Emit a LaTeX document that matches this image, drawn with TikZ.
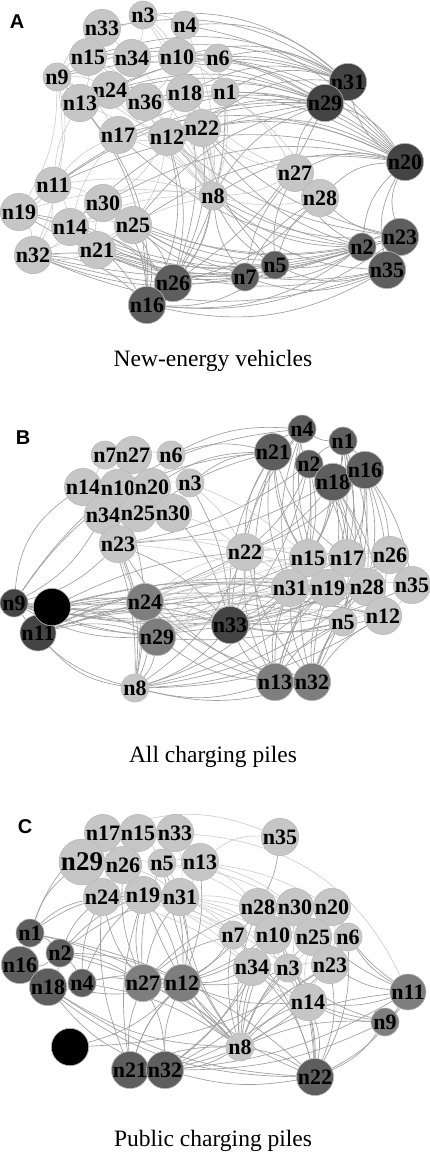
\documentclass[tikz,border=0pt]{standalone}
\usepackage{fontspec}
\setmainfont{Liberation Serif}
\newfontfamily\panelfont{Liberation Sans}
\usetikzlibrary{backgrounds}
\definecolor{netlight}{HTML}{C6C6C6}
\definecolor{netmid}{HTML}{7E7E7E}
\definecolor{netdark}{HTML}{5E5E5E}
\definecolor{netdeep}{HTML}{444444}
\definecolor{netedge}{HTML}{C8C8C8}
\definecolor{netedgedark}{HTML}{9E9E9E}

\begin{document}
\begin{tikzpicture}[x=1pt, y=-1pt,
    nd/.style={circle, draw=gray!55, line width=0.6pt, fill=#1,
      minimum size=28pt, inner sep=0pt, text=black,
      font=\fontsize{22}{22}\selectfont\bfseries},
    elt/.style={draw=netedge, line width=0.55pt},
    edk/.style={draw=netedgedark, line width=0.65pt},
    captext/.style={font=\fontsize{23.5}{26}\selectfont},
    plab/.style={font=\panelfont\bfseries\fontsize{20}{20}\selectfont},
  ]

  \useasboundingbox (0,0) rectangle (429,1157);

  % panel A
  \node[plab] (laba) at (17,22) {A};
  \foreach \n/\x/\y/\c in {3/143/15/netlight, 4/185/25/netlight, 33/102/28/netlight,
      15/88/57/netlight, 34/132/58/netlight, 10/177/57/netlight, 6/218/58/netlight,
      9/57/77/netlight, 24/110/90/netlight, 13/80/103/netlight, 36/145/102/netlight,
      18/185/93/netlight, 1/225/92/netlight, 17/118/135/netlight, 12/167/137/netlight,
      22/202/128/netlight, 31/348/82/netdeep, 29/325/103/netdeep, 20/405/162/netdeep,
      27/295/173/netlight, 28/320/198/netlight, 8/213/196/netlight, 11/53/185/netlight,
      19/19/212/netlight, 30/103/203/netlight, 14/70/227/netlight, 25/133/225/netlight,
      21/97/250/netlight, 32/33/255/netlight, 26/173/283/netdark, 16/147/305/netdark,
      2/362/247/netdark, 23/400/237/netdark, 35/387/270/netdark, 7/245/277/netdark,
      5/275/265/netdark}
    \node[nd=\c] (a\n) at (\x,\y) {n\n};
  \node[captext] (capa) at (213,361) {New-energy vehicles};

  % panel B
  \node[plab] (labb) at (23,438) {B};
  \foreach \n/\x/\y/\c in {7/105/455/netlight, 27/133/455/netlight, 6/171/455/netlight,
      14/83/487/netlight, 10/118/488/netlight, 20/152/487/netlight, 3/190/483/netlight,
      34/103/515/netlight, 25/138/513/netlight, 30/173/513/netlight, 23/118/544/netlight,
      4/302/429/netdark, 1/343/441/netdark, 21/273/452/netdark, 2/309/464/netdark,
      18/333/482/netdark, 16/365/470/netdark, 9/14/603/netdeep, 11/38/633/netdeep,
      24/145/602/netmid, 29/157/637/netmid, 8/135/688/netlight, 22/245/552/netlight,
      15/308/558/netlight, 17/347/558/netlight, 26/390/555/netlight, 31/290/588/netlight,
      19/328/588/netlight, 28/367/587/netlight, 35/412/585/netlight, 33/230/625/netdeep,
      5/343/622/netlight, 12/383/616/netlight, 13/275/682/netmid, 32/312/682/netmid,
      36/52/607/black}
    \node[nd=\c] (b\n) at (\x,\y) {n\n};
  \node[captext] (capb) at (213,757) {All charging piles};

  % panel C
  \node[plab] (labc) at (25,827) {C};
  \foreach \n/\x/\y/\c in {17/103/833/netlight, 15/138/833/netlight, 33/175/833/netlight,
      26/123/865/netlight, 5/162/863/netlight, 13/200/862/netlight,
      24/102/897/netlight, 19/143/895/netlight, 31/180/897/netlight, 35/280/837/netlight,
      28/258/907/netlight, 30/295/907/netlight, 20/332/907/netlight, 7/233/935/netlight,
      10/273/935/netlight, 25/313/937/netlight, 6/348/937/netlight, 1/30/933/netdark,
      2/60/953/netdark, 16/20/965/netdark, 18/48/987/netdark, 4/82/983/netdark,
      27/143/983/netmid, 12/182/983/netmid, 36/70/1047/black, 21/130/1070/netdark,
      32/165/1070/netdark, 34/252/967/netlight, 3/288/968/netlight, 23/330/965/netlight,
      14/308/1002/netlight, 11/408/992/netmid, 9/385/1022/netmid, 8/240/1047/netlight,
      22/315/1077/netdark}
    \node[nd=\c] (c\n) at (\x,\y) {n\n};
  \node[nd=netlight, minimum size=32pt, font=\fontsize{27}{27}\selectfont\bfseries] (c29) at (82,862) {n29};
  \node[captext] (capc) at (213,1141) {Public charging piles};

  \begin{scope}[on background layer]
    \fill[white] (0,0) rectangle (429,1157);
    % edges A
    \foreach \h/\b/\s/\ts in {31/-22/edk/{9,13,15,33,3,4,10,6,1,18,22,24,20},
        29/-18/edk/{9,13,24,17,12,36,19,11,8,27,14,25,34,15},
        20/-20/edk/{1,6,18,22,12,27,28,8,25,30,11,4,10,29,36,17,23,2,35},
        2/18/edk/{8,12,22,17,14,30,25,32,27,5,7,23,35,21},
        23/15/edk/{8,22,25,32,28,21,12},
        35/20/edk/{32,5,7,16,8,25,14},
        26/-15/edk/{8,22,12,32,19,25,14,21,28,1,29,18},
        16/-20/edk/{32,19,25,8,30,2,23,5,9,12,13},
        7/15/edk/{32,21,25,8,19,28,27},
        5/15/edk/{8,25,14,21,28,27,22},
        8/-12/elt/{9,13,15,17,12,24,36,30,14,21,11,22,18,1,10,33,3,4,28,27,6,19},
        9/15/elt/{15,13,33,24,11,19,17}, 15/12/elt/{33,34,24,13,36},
        3/12/elt/{33,4,34,10,18}, 10/12/elt/{4,6,34,36,18,1,22},
        12/12/elt/{17,36,18,22,30,25,24}, 11/12/elt/{19,30,14,13,17},
        32/-15/elt/{19,14,21,11,30,25,9}, 14/12/elt/{30,25,21,17},
        21/12/elt/{25,30}, 1/12/elt/{6,18,22,27,28}, 27/12/elt/{28,22,18}}
      \foreach \t in \ts
        \draw[\s] (a\h) to[bend left=\b] (a\t);
    % edges B
    \foreach \h/\b/\s/\ts in {9/-15/edk/{23,24,33,22,31,15,17,28,29,34,19,5},
        9/25/edk/{4,21,14}, 8/20/edk/{9,11},
        11/15/edk/{24,33,29,31,19,5,12},
        36/10/edk/{24,33,22,29,12,28,31},
        33/-12/edk/{22,15,17,31,19,28,5,12,13,32,24,29,23,26,35,30,3},
        8/-15/edk/{24,29,33,23,31,19,5,12,28,22,13,32,14,34,10},
        13/15/edk/{22,31,19,5,15,24,29,23,17},
        32/12/edk/{22,31,19,5,12,15,17,28,26,24},
        21/-15/edk/{22,15,17,31,19,33,13,23,20,3,6},
        4/-15/edk/{21,1,2,22,15,19,31,33,6},
        2/12/edk/{23,22,15,17,28,31,33,13,1,18},
        1/12/edk/{16,15,17,19,28,5,18},
        18/12/edk/{16,15,17,31,19,28,5,12,23,22},
        16/12/edk/{26,35,12,28,17,22,5,32},
        24/12/elt/{29,22,31,23,19,15,17,28,5,12},
        29/12/elt/{22,31,15,19,28,5,12,26},
        7/10/elt/{27,14,10}, 27/10/elt/{6,10,20}, 6/10/elt/{20,3},
        14/10/elt/{10,34}, 10/10/elt/{20,25,34}, 20/10/elt/{3,25,30},
        3/10/elt/{30,22,15}, 34/10/elt/{25,23}, 25/10/elt/{30,23},
        30/10/elt/{22}, 23/10/elt/{22,15,31}, 22/10/elt/{15,31,19,17},
        15/10/elt/{17,26,28,19}, 17/10/elt/{26,28}, 26/10/elt/{35,28},
        28/10/elt/{35,12,19}, 35/10/elt/{12}, 19/10/elt/{31,5}, 5/10/elt/{12}}
      \foreach \t in \ts
        \draw[\s] (b\h) to[bend left=\b] (b\t);
    % edges C
    \foreach \h/\b/\s/\ts in {1/15/edk/{2,16,29,24,19,8,22,17},
        16/-20/edk/{2,18,22,12}, 2/12/edk/{4,18,24,19,31,27,12,8},
        18/-15/edk/{4,8,32,22}, 4/12/edk/{27,24,19,12,8},
        27/12/edk/{12,24,19,31,26,5,8,32,7,28},
        12/-12/edk/{31,5,13,19,28,30,7,10,34,3,14,8,22,21,32},
        36/-15/edk/{12,23}, 21/12/edk/{32,8,12,27,24,19},
        32/-12/edk/{8,22,14,3,34,10,23,9,11},
        8/12/edk/{22,14,3,34,7,10,25,23,28,30,11,9,31,19,5},
        22/-15/edk/{14,3,34,23,6,9,11,10,7,28},
        11/12/edk/{9,14,23,6,20,30}, 9/12/edk/{14,3,34},
        14/12/elt/{3,23,34,25,10,7,28,30},
        35/-20/elt/{17,13}, 35/10/edk/{28}, 33/30/elt/{11},
        17/10/elt/{15,29,26,24}, 15/10/elt/{33,26,5}, 33/10/elt/{5,13,31},
        29/10/elt/{26,24,19}, 26/10/elt/{5,24,19,31}, 5/10/elt/{13,19,31,28,30},
        13/10/elt/{31,28,30,20}, 24/10/elt/{19,31,7,34}, 19/10/elt/{31,7,10,3,34},
        31/10/elt/{7,10,28,25,3}, 28/10/elt/{30,7,10}, 30/10/elt/{20,10,25},
        20/10/elt/{6,25,23}, 7/10/elt/{10,34}, 10/10/elt/{25,3,34},
        25/10/elt/{6,23,3}, 6/10/elt/{23}, 34/10/elt/{3}, 3/10/elt/{23}}
      \foreach \t in \ts
        \draw[\s] (c\h) to[bend left=\b] (c\t);
  \end{scope}

\end{tikzpicture}
\end{document}
